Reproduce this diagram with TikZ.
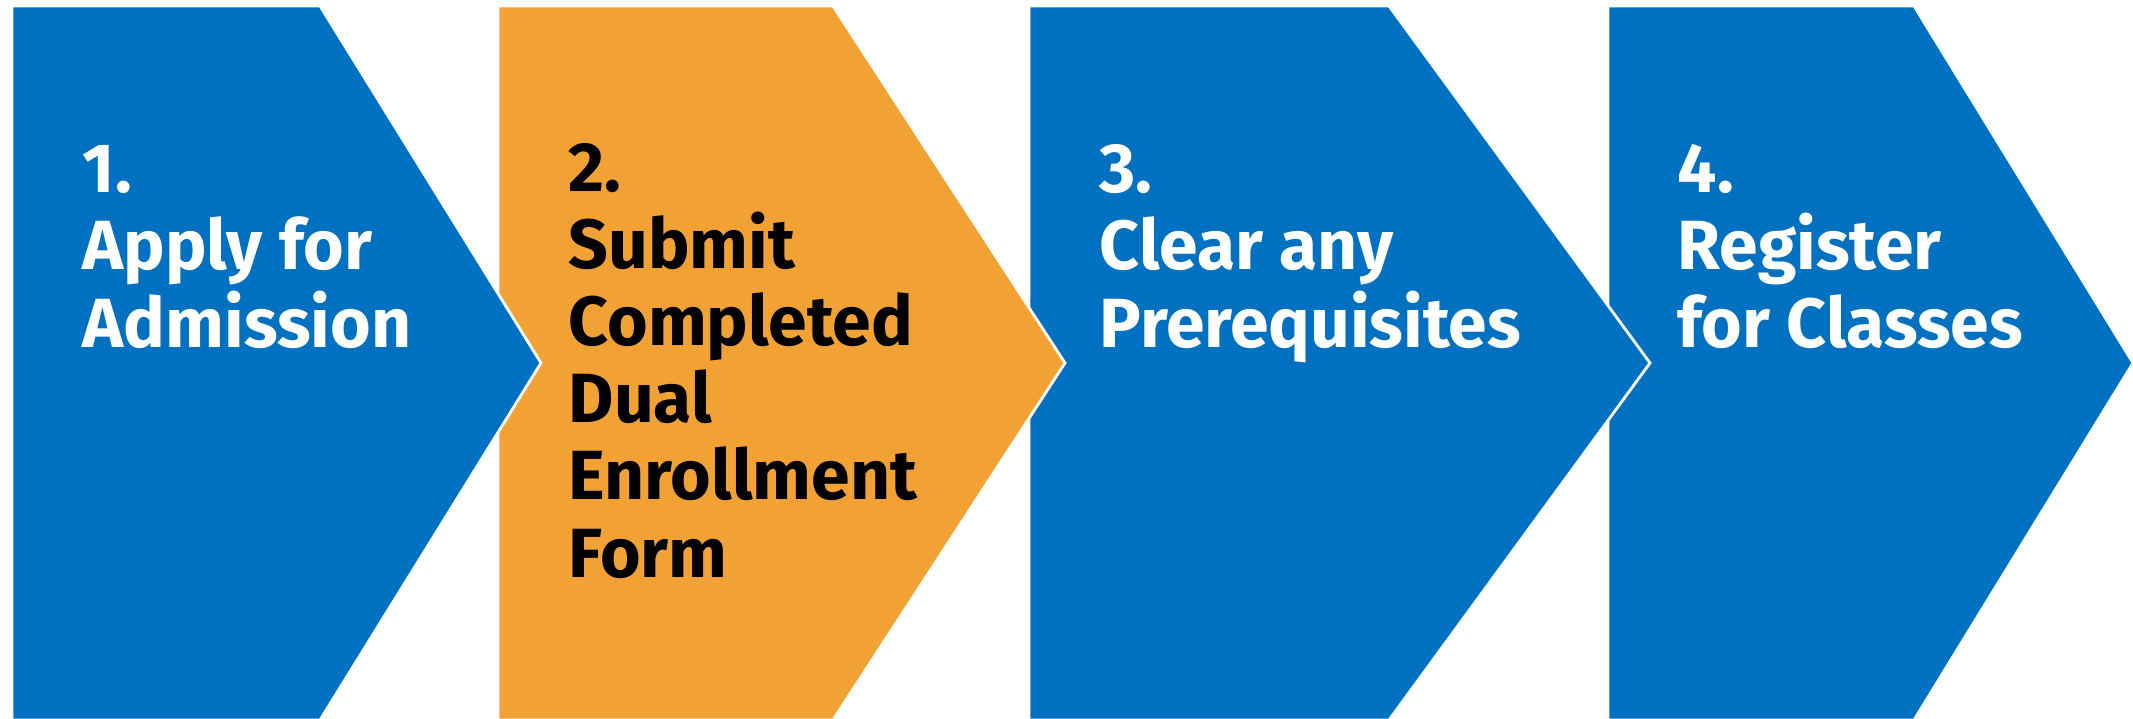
\documentclass[tikz,border=0pt]{standalone}
\usepackage{fontspec}
\setmainfont{Fira Sans}
\usepackage{tikz}
\definecolor{StageBlue}{RGB}{0, 112, 192}
\definecolor{StageOrange}{RGB}{242, 161, 52}

\begin{document}
\begin{tikzpicture}[
            x=0.01cm, y=-0.01cm,
            stage/.style={draw=white, line width=0.8pt, line join=miter},
            blue stage/.style={stage, fill=StageBlue},
            orange stage/.style={stage, fill=StageOrange},
            stagetext/.style={anchor=base west, align=left, inner sep=0pt, text=white, font=\fontsize{19.8}{21.9}\selectfont\bfseries},
            dark text/.style={stagetext, text=black}
        ]
        \useasboundingbox (0,0) rectangle (2133,718);

        % --- CHEVRONS (right to left, so each tip lies over the next one) ---
        \path[blue stage] (1608,6) -- (1914,6) -- (2133,363) -- (1914,720) -- (1608,720) -- cycle;
        \path[blue stage] (1029,6) -- (1389,6) -- (1650,363) -- (1389,720) -- (1029,720) -- cycle;
        \path[orange stage] (498,6) -- (833,6) -- (1065,363) -- (833,720) -- (498,720) -- cycle;
        \path[blue stage] (12,6) -- (320,6) -- (541,363) -- (320,720) -- (12,720) -- cycle;

        % --- TEXTS (base anchor sits on the last line) ---
        \node[stagetext] (apply) at (82,347) {1.\\Apply for\\Admission};
        \node[dark text] (submit) at (568,577) {2.\\Submit\\Completed\\Dual\\Enrollment\\Form};
        \node[stagetext] (clear) at (1099,347) {3.\\Clear any\\Prerequisites};
        \node[stagetext] (register) at (1677,347) {4.\\Register\\for Classes};

        \end{tikzpicture}
\end{document}
